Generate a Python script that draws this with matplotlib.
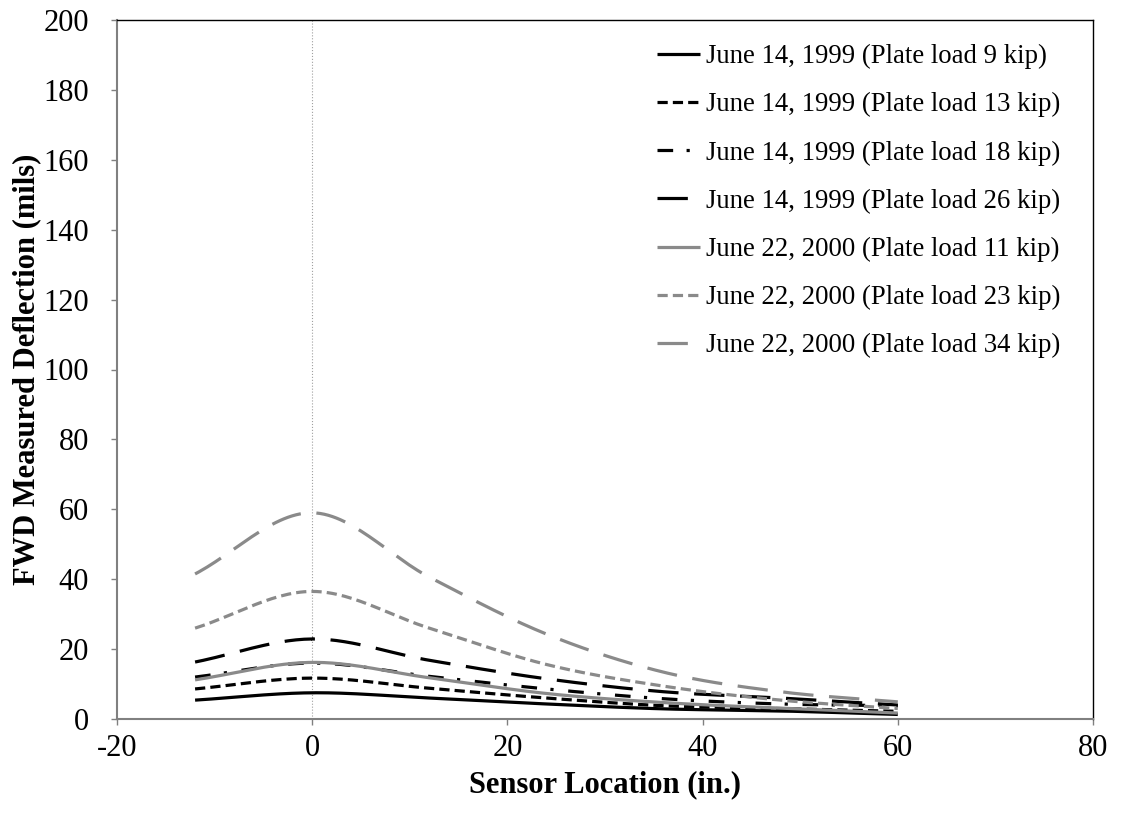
import numpy as np
import matplotlib.pyplot as plt

# sensor positions (in.)
sensors = [-12, 0, 12, 24, 36, 48, 60]

# FWD measured deflections (mils)
d_99_09 = [5.4, 7.5, 6.0, 4.3, 2.9, 2.3, 1.3]
d_99_13 = [8.6, 11.7, 8.8, 6.0, 3.8, 3.0, 2.2]
d_99_18 = [12.0, 16.0, 12.2, 8.6, 5.8, 4.3, 3.8]
d_99_26 = [16.3, 22.9, 16.8, 11.5, 7.8, 6.0, 4.0]
d_00_11 = [11.2, 16.2, 11.8, 7.3, 4.7, 3.1, 1.7]
d_00_23 = [26.0, 36.5, 26.0, 15.6, 9.4, 5.4, 3.0]
d_00_34 = [41.5, 59.0, 40.6, 24.3, 13.4, 7.8, 4.9]

labels = ["June 14, 1999 (Plate load 9 kip)",
          "June 14, 1999 (Plate load 13 kip)",
          "June 14, 1999 (Plate load 18 kip)",
          "June 14, 1999 (Plate load 26 kip)",
          "June 22, 2000 (Plate load 11 kip)",
          "June 22, 2000 (Plate load 23 kip)",
          "June 22, 2000 (Plate load 34 kip)"]

plt.rcParams['font.family'] = ['Liberation Serif', 'DejaVu Serif']
plt.rcParams['axes.unicode_minus'] = False


def smooth(x, y, n=30):
    # catmull-rom spline through the points, like excel's smoothed line
    x = np.asarray(x, float)
    y = np.asarray(y, float)
    px = np.concatenate([[2*x[0]-x[1]], x, [2*x[-1]-x[-2]]])
    py = np.concatenate([[2*y[0]-y[1]], y, [2*y[-1]-y[-2]]])
    xs, ys = [], []
    t = np.linspace(0, 1, n)
    for i in range(1, len(px)-2):
        for p, out in ((px, xs), (py, ys)):
            p0, p1, p2, p3 = p[i-1], p[i], p[i+1], p[i+2]
            out.append(0.5*((2*p1) + (-p0+p2)*t + (2*p0-5*p1+4*p2-p3)*t**2
                            + (-p0+3*p1-3*p2+p3)*t**3))
    return np.concatenate(xs), np.concatenate(ys)


gray = '#8a8a8a'
lw = 2.3
styles = [
    dict(color='black', linestyle='-'),
    dict(color='black', dashes=(3.2, 1.6)),
    dict(color='black', dashes=(4.9, 4.2, 1.0, 4.6)),
    dict(color='black', dashes=(9.5, 4.9)),
    dict(color=gray, linestyle='-'),
    dict(color=gray, dashes=(3.2, 1.6)),
    dict(color=gray, dashes=(9.5, 4.9)),
]
series = [d_99_09, d_99_13, d_99_18, d_99_26, d_00_11, d_00_23, d_00_34]

fig = plt.figure(figsize=(11.29, 8.14), dpi=100)
ax = fig.add_axes([117/1129, 1-719/814, (1093-117)/1129, (719-20)/814])

ax.axvline(0, color='#a0a0a0', linestyle=':', linewidth=0.8, zorder=0)

for d, st, lab in zip(series, styles, labels):
    xs, ys = smooth(sensors, d)
    ax.plot(xs, ys, linewidth=lw, label=lab, solid_capstyle='butt',
            dash_capstyle='butt', **st)

ax.set_xlim(-20, 80)
ax.set_ylim(0, 200)
ax.set_xticks(np.arange(-20, 81, 20))
ax.set_yticks(np.arange(0, 201, 20))
ax.tick_params(direction='out', length=4, width=1, color='#808080',
               labelsize=22, pad=7)
ax.tick_params(axis='y', pad=16)
for s in ['left', 'bottom']:
    ax.spines[s].set_color('#808080')
    ax.spines[s].set_linewidth(1.5)
for s in ['top', 'right']:
    ax.spines[s].set_color('black')
    ax.spines[s].set_linewidth(1.0)

ax.set_xlabel("Sensor Location (in.)", fontsize=22, fontweight='bold', labelpad=5)
ax.set_ylabel("FWD Measured Deflection (mils)", fontsize=22, fontweight='bold',
              labelpad=2)

ax.legend(loc='upper left', bbox_to_anchor=(657/1129, 1-44/814),
          bbox_transform=fig.transFigure, frameon=False, fontsize=19.3,
          handlelength=1.6, handletextpad=0.22, labelspacing=0.86,
          borderpad=0, borderaxespad=0)

fig.savefig('out.png', dpi=100)
